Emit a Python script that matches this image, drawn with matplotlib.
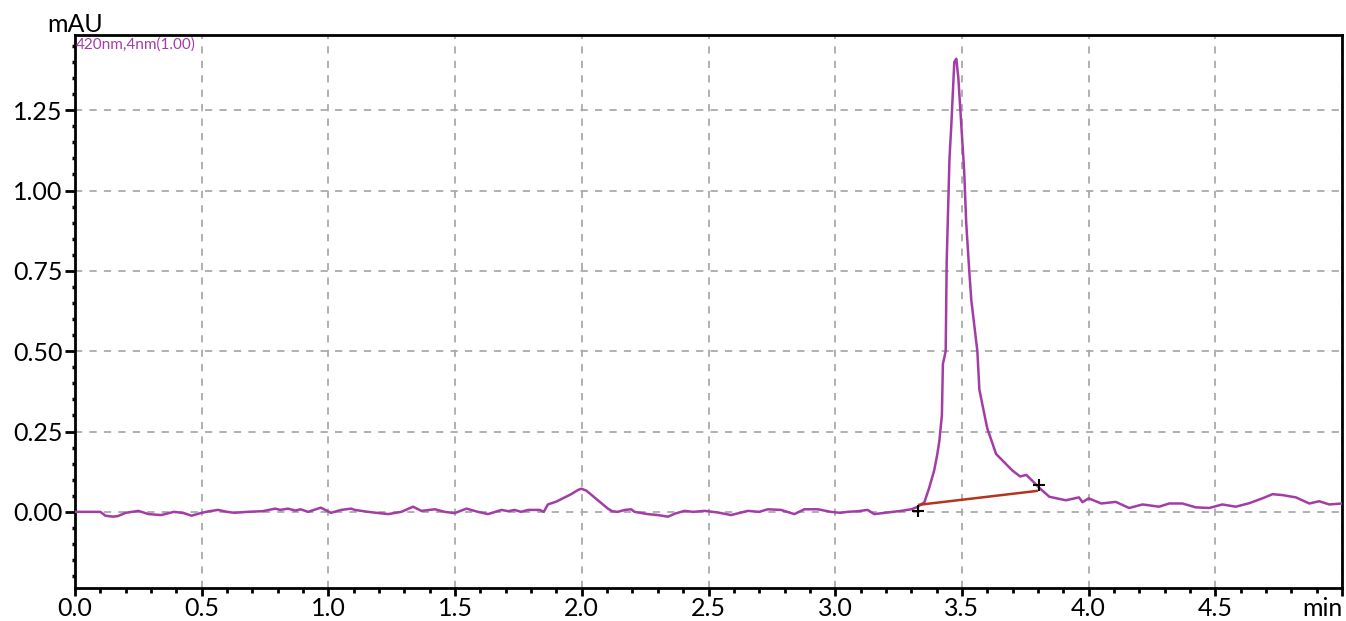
import matplotlib
matplotlib.use('Agg')
import matplotlib.pyplot as plt
from matplotlib.ticker import MultipleLocator, FixedLocator

plt.rcParams['font.family'] = ['Lato', 'DejaVu Sans']

# chromatogram trace (min, mAU)
time_min = [
    0.00, 0.05, 0.10, 0.12, 0.15, 0.17, 0.20, 0.25, 0.29, 0.34,
    0.39, 0.43, 0.46, 0.50, 0.53, 0.565, 0.60, 0.63, 0.68, 0.74,
    0.79, 0.81, 0.84, 0.87, 0.89, 0.92, 0.97, 1.01, 1.05, 1.09,
    1.104, 1.157, 1.20, 1.236, 1.288, 1.334, 1.367, 1.42, 1.459, 1.498,
    1.545, 1.59, 1.63, 1.683, 1.71, 1.735, 1.76, 1.788, 1.834, 1.85,
    1.866, 1.90, 1.92, 1.958, 1.985, 1.998, 2.018, 2.05, 2.08, 2.103,
    2.12, 2.142, 2.17, 2.195, 2.208, 2.26, 2.30, 2.34, 2.37, 2.405,
    2.44, 2.484, 2.537, 2.589, 2.62, 2.655, 2.70, 2.734, 2.786, 2.839,
    2.878, 2.931, 2.983, 3.02, 3.049, 3.09, 3.128, 3.154, 3.207, 3.26,
    3.30, 3.324, 3.352, 3.371, 3.391, 3.403, 3.411, 3.421, 3.425, 3.436,
    3.440, 3.446, 3.451, 3.458, 3.464, 3.470, 3.478, 3.486, 3.498, 3.509,
    3.517, 3.529, 3.537, 3.561, 3.569, 3.60, 3.635, 3.70, 3.73, 3.754,
    3.78, 3.805, 3.845, 3.91, 3.962, 3.976, 4.00, 4.05, 4.107, 4.16,
    4.213, 4.278, 4.318, 4.37, 4.423, 4.476, 4.528, 4.581, 4.634, 4.686,
    4.726, 4.766, 4.818, 4.871, 4.91, 4.95, 5.00,
]
signal_mau = [
    0.000, 0.000, 0.000, -0.012, -0.015, -0.013, -0.003, 0.003, -0.007, -0.010,
    0.000, -0.004, -0.012, -0.003, 0.002, 0.006, 0.000, -0.003, 0.000, 0.002,
    0.010, 0.006, 0.010, 0.004, 0.008, 0.000, 0.013, -0.003, 0.006, 0.010,
    0.006, 0.000, -0.004, -0.007, 0.000, 0.016, 0.003, 0.008, 0.000, -0.004,
    0.010, 0.000, -0.007, 0.006, 0.002, 0.006, 0.000, 0.006, 0.006, 0.000,
    0.023, 0.032, 0.040, 0.055, 0.068, 0.072, 0.066, 0.045, 0.025, 0.010,
    0.002, 0.000, 0.006, 0.008, 0.000, -0.007, -0.010, -0.015, -0.005, 0.003,
    0.000, 0.003, -0.002, -0.010, -0.004, 0.003, 0.000, 0.008, 0.006, -0.007,
    0.008, 0.008, 0.000, -0.003, 0.000, 0.002, 0.006, -0.007, -0.002, 0.003,
    0.008, 0.015, 0.030, 0.075, 0.130, 0.180, 0.220, 0.300, 0.460, 0.500,
    0.780, 0.950, 1.100, 1.200, 1.300, 1.400, 1.410, 1.350, 1.200, 1.060,
    0.900, 0.750, 0.660, 0.500, 0.380, 0.260, 0.180, 0.128, 0.110, 0.115,
    0.095, 0.075, 0.047, 0.036, 0.045, 0.030, 0.042, 0.026, 0.031, 0.012,
    0.023, 0.016, 0.026, 0.026, 0.014, 0.012, 0.023, 0.016, 0.027, 0.042,
    0.055, 0.052, 0.045, 0.026, 0.033, 0.023, 0.026,
]

# integration baseline under the main peak
baseline_t = [3.332, 3.795]
baseline_y = [0.022, 0.065]
marker_t = [3.325, 3.805]
marker_y = [0.004, 0.082]

x_ticks = [0.0, 0.5, 1.0, 1.5, 2.0, 2.5, 3.0, 3.5, 4.0, 4.5, 5.0]
x_labels = ['0.0', '0.5', '1.0', '1.5', '2.0', '2.5', '3.0', '3.5', '4.0', '4.5', '']
y_ticks = [0.0, 0.25, 0.5, 0.75, 1.0, 1.25]

trace_color = '#a33ca6'

fig = plt.figure(figsize=(13.46, 6.21), dpi=100)
ax = fig.add_axes([75 / 1346, 1 - 588 / 621, (1342 - 75) / 1346, (588 - 35) / 621])

ax.plot(time_min, signal_mau, color=trace_color, linewidth=1.8, zorder=3)
ax.plot(baseline_t, baseline_y, color='#b5331f', linewidth=1.8, zorder=4)
ax.plot(marker_t, marker_y, linestyle='none', marker='+', color='black',
        markersize=8, markeredgewidth=1.5, zorder=5)

ax.set_xlim(0, 5.0)
ax.set_ylim(-0.237, 1.484)

ax.set_xticks(x_ticks)
ax.set_xticklabels(x_labels)
ax.xaxis.set_minor_locator(MultipleLocator(0.1))
ax.yaxis.set_major_locator(FixedLocator(y_ticks))
ax.set_yticklabels([f'{v:.2f}' for v in y_ticks])
ax.yaxis.set_minor_locator(MultipleLocator(0.05))

ax.tick_params(axis='both', which='major', labelsize=18, width=2, color='black')
ax.tick_params(axis='x', which='major', direction='out', length=6, pad=0.5)
ax.tick_params(axis='x', which='minor', direction='out', length=3.5, width=2)
ax.tick_params(axis='y', which='major', direction='out', length=7, pad=2)
ax.tick_params(axis='y', which='minor', direction='out', length=2.5, width=2.5)

for side in ax.spines.values():
    side.set_linewidth(2)
    side.set_color('black')

ax.grid(True, which='major', color='#aaaaaa', linestyle=(0, (4, 4)), linewidth=1.3)
ax.set_axisbelow(True)

ax.text(0.001, 0.995, '420nm,4nm(1.00)', transform=ax.transAxes,
        ha='left', va='top', fontsize=11, color=trace_color)
fig.text(47 / 1346, 1 - 32 / 621, 'mAU', fontsize=18, ha='left', va='baseline')
fig.text(1343 / 1346, 1 - 616 / 621, 'min', fontsize=18, ha='right', va='baseline')

plt.savefig('out.png', dpi=100)
